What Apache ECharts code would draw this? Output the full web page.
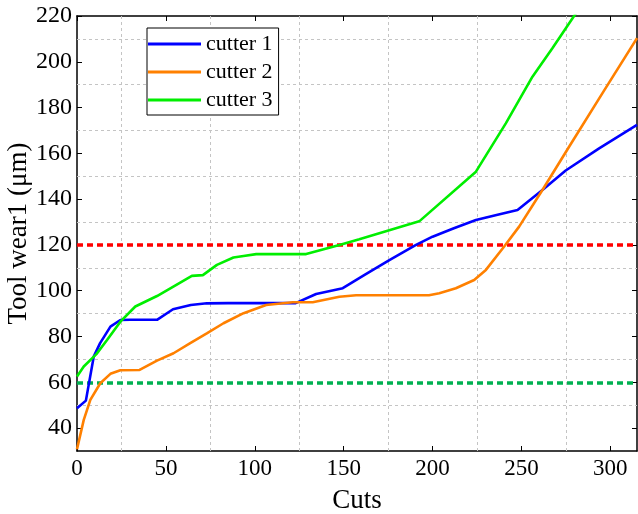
<!DOCTYPE html>
<html>
<head>
<meta charset="utf-8">
<script src="https://cdn.jsdelivr.net/npm/echarts@6/dist/echarts.min.js"></script>
<style>html,body{margin:0;padding:0;background:#fff}#c{width:638px;height:514px}</style>
</head>
<body>
<div id="c"></div>
<script>
const xTicks = [0, 50, 100, 150, 200, 250, 300];
const yTicks = [40, 60, 80, 100, 120, 140, 160, 180, 200, 220];
const xGrid = [25, 75, 125, 175, 225, 275];
const yGrid = [50, 70, 90, 110, 130, 150, 170, 190, 210];

const c1Cuts = [0, 5, 9.4, 13, 18.8, 24.4, 30, 45, 54, 64, 73, 85, 100, 123, 134.5, 149.5, 162, 175.7, 190.7, 200, 212, 224.4, 236, 247.8, 261.8, 274.9, 293.7, 315];
const c1Wear = [48.7, 52, 71.2, 77.1, 84.3, 87.2, 87.3, 87.3, 91.9, 93.8, 94.5, 94.6, 94.6, 94.6, 98.6, 101.1, 107, 113.4, 120, 123.6, 127.3, 130.9, 133.1, 135.3, 144, 152.5, 162.2, 172.4];

const c2Cuts = [0, 3.8, 7.5, 13.1, 18.8, 24.4, 35.2, 45, 54.3, 63.7, 73, 82.4, 93.7, 106.4, 121.3, 132.6, 147.6, 157, 198, 203.8, 213.1, 223.4, 230, 240.3, 248.7, 261.8, 276.8, 295.5, 315];
const c2Wear = [30.8, 43.6, 52.3, 59.6, 63.7, 65.3, 65.4, 69.5, 72.7, 77.1, 81.4, 85.8, 90.2, 93.8, 95, 95, 97.4, 98, 98, 98.9, 101.1, 104.7, 109.1, 119.3, 128, 144, 162.9, 186.2, 210.3];

const c3Cuts = [0, 3.8, 10.9, 16.9, 24.4, 32.8, 45, 64.6, 70.8, 78.7, 88, 93.7, 100.8, 128.9, 147.6, 158.8, 192.5, 224.4, 241.2, 256.2, 267.4, 279.6, 285];
const c3Wear = [62.5, 66.9, 72.3, 78.5, 86.5, 93.1, 97.7, 106.5, 106.8, 111.3, 114.5, 115.2, 116, 116, 120, 122.5, 130.3, 152, 173.1, 193.5, 205.9, 220, 226.5];

const limitRed = 120;
const limitGreen = 60;

const seriesNames = ['cutter 1', 'cutter 2', 'cutter 3'];
const seriesColors = ['#0000ff', '#ff8000', '#00ee00'];

function zip(a, b) { return a.map((v, i) => [v, b[i]]); }

const font = 'Liberation Serif';
const chart = echarts.init(document.getElementById('c'), null, {renderer: 'canvas'});

const mkLine = (name, cuts, wear, color) => ({
  name: name, type: 'line', data: zip(cuts, wear), showSymbol: false, symbol: 'none',
  lineStyle: {color: color, width: 2.6}, itemStyle: {color: color}, z: 5, clip: true
});

const option = {
  animation: false,
  backgroundColor: '#fff',
  grid: {left: 77, right: 1, top: 16, bottom: 63, containLabel: false, outerBoundsMode: 'none'},
  legend: {
    data: seriesNames,
    orient: 'vertical', left: 147, top: 28,
    padding: [5, 6, 4, 1], itemGap: 6,
    itemWidth: 53, itemHeight: 3, icon: 'rect',
    borderColor: '#000', borderWidth: 1, backgroundColor: '#fff',
    textStyle: {fontFamily: font, fontSize: 22, color: '#000', lineHeight: 22},
    z: 20
  },
  xAxis: [{
    type: 'value', min: 0, max: 315, position: 'bottom',
    name: 'Cuts', nameLocation: 'middle', nameGap: 36, nameMoveOverlap: false,
    nameTextStyle: {fontFamily: font, fontSize: 27, color: '#000'},
    axisLine: {show: true, onZero: false, lineStyle: {color: '#000', width: 1.5}},
    axisTick: {show: true, inside: true, length: 5, customValues: xTicks, lineStyle: {color: '#000'}},
    axisLabel: {customValues: xTicks, fontFamily: font, fontSize: 23, color: '#000', margin: 6},
    splitLine: {show: false}
  }, {
    type: 'value', min: 0, max: 315, position: 'top',
    axisLine: {show: true, onZero: false, lineStyle: {color: '#000', width: 1.5}},
    axisTick: {show: true, inside: true, length: 5, customValues: xTicks, lineStyle: {color: '#000'}},
    axisLabel: {show: false},
    splitLine: {show: false}
  }],
  yAxis: [{
    type: 'value', min: 30, max: 220, position: 'left',
    name: 'Tool wear1 (μm)', nameLocation: 'middle', nameGap: 45, nameMoveOverlap: false,
    nameTextStyle: {fontFamily: font, fontSize: 27, color: '#000'},
    axisLine: {show: true, onZero: false, lineStyle: {color: '#000', width: 1.5}},
    axisTick: {show: true, inside: true, length: 5, customValues: yTicks, lineStyle: {color: '#000'}},
    axisLabel: {customValues: yTicks, fontFamily: font, fontSize: 24, color: '#000', margin: 5},
    splitLine: {show: false}
  }, {
    type: 'value', min: 30, max: 220, position: 'right',
    axisLine: {show: true, onZero: false, lineStyle: {color: '#000', width: 1.5}},
    axisTick: {show: true, inside: true, length: 5, customValues: yTicks, lineStyle: {color: '#000'}},
    axisLabel: {show: false},
    splitLine: {show: false}
  }],
  series: [
    {
      name: 'grid', type: 'line', data: [], silent: true, z: 1,
      markLine: {
        silent: true, symbol: ['none', 'none'], label: {show: false}, animation: false,
        lineStyle: {color: '#c4c4c4', type: [3, 3], width: 1},
        data: xGrid.map(v => ({xAxis: v})).concat(yGrid.map(v => ({yAxis: v})))
      }
    },
    mkLine(seriesNames[0], c1Cuts, c1Wear, seriesColors[0]),
    mkLine(seriesNames[1], c2Cuts, c2Wear, seriesColors[1]),
    mkLine(seriesNames[2], c3Cuts, c3Wear, seriesColors[2]),
    {
      name: 'limits', type: 'line', data: [], silent: true, z: 10,
      markLine: {
        silent: true, symbol: ['none', 'none'], label: {show: false}, animation: false,
        data: [
          {yAxis: limitRed, lineStyle: {color: '#ff0000', type: [6, 4], width: 3.5}},
          {yAxis: limitGreen, lineStyle: {color: '#00b050', type: [6, 4], width: 3.5}}
        ]
      }
    }
  ]
};
chart.setOption(option);
</script>
</body>
</html>
